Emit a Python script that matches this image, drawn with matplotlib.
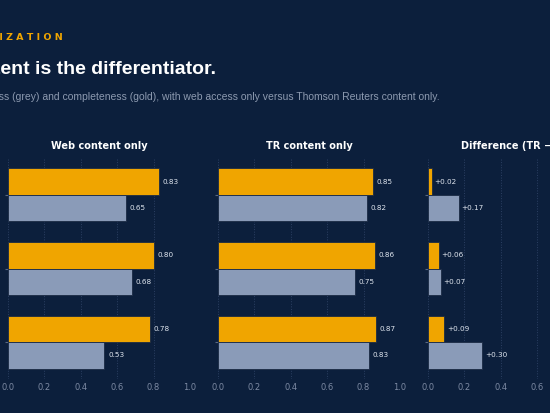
import matplotlib
matplotlib.use("Agg")
import matplotlib.pyplot as plt
import numpy as np

categories = ["GPT-4", "GPT-5", "CoCounsel Core"]
web_complete = [0.83, 0.80, 0.78]
web_correct = [0.65, 0.68, 0.53]
tr_complete = [0.85, 0.86, 0.87]
tr_correct = [0.82, 0.75, 0.83]
diff_complete = [0.02, 0.06, 0.09]
diff_correct = [0.17, 0.07, 0.30]

BG = "#0c1f3c"
GOLD = "#f0a500"
GREY = "#8a9bb8"
W, H = 550, 413
fig = plt.figure(figsize=(5.5, 4.13), dpi=100, facecolor=BG)

def ax_at(x0, x1, y0, y1):
    return fig.add_axes([x0 / W, 1 - y1 / H, (x1 - x0) / W, (y1 - y0) / H])

y = np.arange(len(categories))
h = 0.36
panels = [
    (ax_at(8, 190, 158, 379), web_complete, web_correct, (0, 1.0), [0, .2, .4, .6, .8, 1.0], False),
    (ax_at(218, 400, 158, 379), tr_complete, tr_correct, (0, 1.0), [0, .2, .4, .6, .8, 1.0], False),
    (ax_at(428, 555, 158, 379), diff_complete, diff_correct, (0, 0.7), [0, .2, .4, .6], True),
]
for i, (ax, comp, corr, xl, ticks, sign) in enumerate(panels):
    ax.set_facecolor(BG)
    ax.barh(y - h / 2, comp, height=h, color=GOLD, edgecolor="#1a2a44", linewidth=0.6, zorder=3)
    ax.barh(y + h / 2, corr, height=h, color=GREY, edgecolor="#1a2a44", linewidth=0.6, zorder=3)
    for yy, v in zip(y - h / 2, comp):
        ax.text(v + 0.02 * (xl[1]), yy, (f"+{v:.2f}" if sign else f"{v:.2f}"), va="center", fontsize=5.2, color="#dfe5ee")
    for yy, v in zip(y + h / 2, corr):
        ax.text(v + 0.02 * (xl[1]), yy, (f"+{v:.2f}" if sign else f"{v:.2f}"), va="center", fontsize=5.2, color="#dfe5ee")
    ax.set_xlim(*xl)
    ax.set_ylim(len(categories) - 0.5, -0.5)
    ax.set_xticks(ticks)
    ax.set_xticklabels([f"{t:.1f}" for t in ticks], fontsize=6, color="#7d8aa3")
    ax.set_yticks(y)
    ax.set_yticklabels(categories if i == 0 else [], fontsize=6, color="#c8d0dc")
    ax.tick_params(axis="both", length=2, color="#5a6a85")
    ax.tick_params(axis="x", length=0, pad=3)
    for s in ax.spines.values():
        s.set_visible(False)
    ax.grid(axis="x", color="#2c4063", linestyle=":", linewidth=0.7, zorder=0)

fig.text(99 / W, 1 - 146 / H, "Web content only", ha="center", va="center", fontsize=7, fontweight="bold", color="white")
fig.text(309 / W, 1 - 146 / H, "TR content only", ha="center", va="center", fontsize=7, fontweight="bold", color="white")
fig.text(461 / W, 1 - 146 / H, "Difference (TR \u2212 Web)", ha="left", va="center", fontsize=7, fontweight="bold", color="white")

fig.text(63 / W, 1 - 38 / H, "R E S U L T S    V I S U A L I Z A T I O N", ha="right", va="center", fontsize=6.8, fontweight="bold", color=GOLD)
fig.text(216 / W, 1 - 69 / H, "Content is the differentiator.", ha="right", va="center", fontsize=14, fontweight="bold", color="white", family="Liberation Sans")
fig.text(440 / W, 1 - 97 / H, "Correctness (grey) and completeness (gold), with web access only versus Thomson Reuters content only.",
         ha="right", va="center", fontsize=7.5, color="#8d9ab0", family="Liberation Sans")

fig.savefig("out.png", dpi=100, facecolor=BG)
